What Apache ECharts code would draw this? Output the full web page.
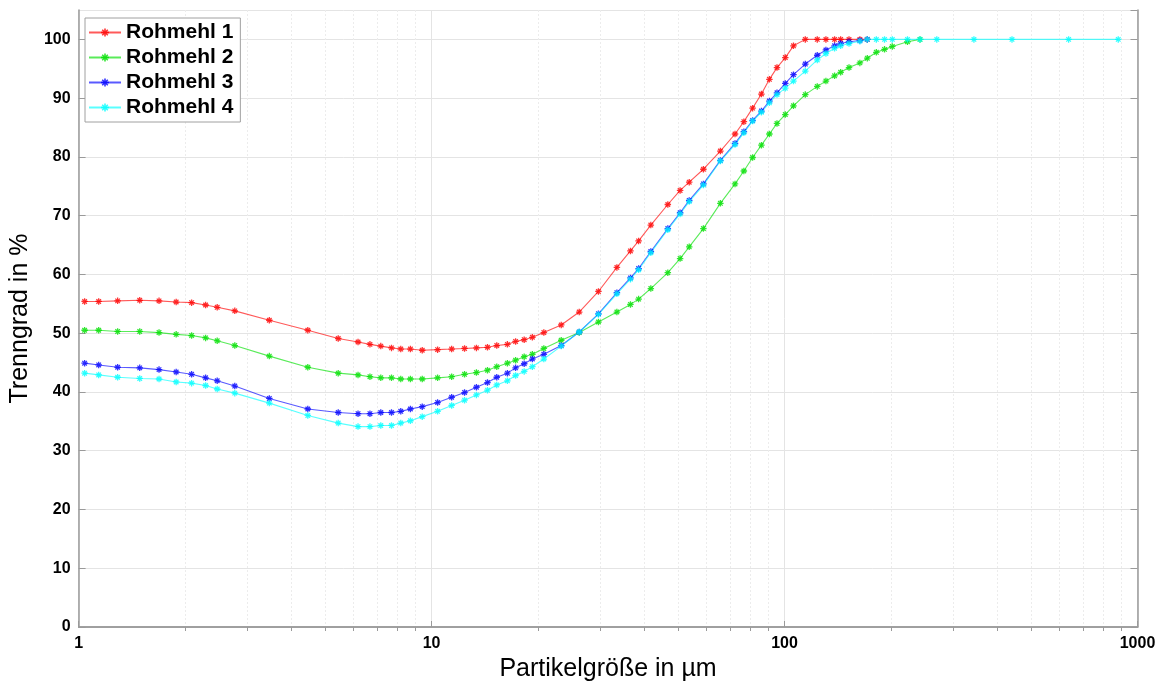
<!DOCTYPE html>
<html><head><meta charset="utf-8">
<script src="https://cdn.jsdelivr.net/npm/echarts@6/dist/echarts.min.js"></script>
<style>html,body{margin:0;padding:0;background:#fff}#c{width:1163px;height:687px}</style>
</head><body><div id="c"></div>
<script>
// Particle sizes (µm)
const xValues = [1.04,1.14,1.29,1.49,1.69,1.89,2.09,2.29,2.47,2.77,
 3.47,4.46,5.44,6.19,6.69,7.18,7.70,8.18,8.71,9.41,
 10.4,11.4,12.4,13.4,14.4,15.3,16.4,17.3,18.3,19.3,
 20.8,23.3,26.2,29.7,33.5,36.6,38.6,41.8,46.7,50.6,
 53.7,58.9,65.8,72.4,76.7,81.2,86.0,90.6,95.2,100.5,
 106,114.5,123.8,131,138.6,144.2,152.3,163.5,171.6,182,
 192,202,223,242,270,344,441,638,882];

const rohmehl1 = [55.4,55.4,55.5,55.6,55.5,55.3,55.2,54.8,54.4,53.8,
 52.2,50.5,49.1,48.5,48.1,47.8,47.5,47.3,47.3,47.1,
 47.2,47.3,47.4,47.5,47.6,47.9,48.1,48.6,48.9,49.3,
 50.1,51.4,53.6,57.1,61.2,64.0,65.7,68.4,71.9,74.3,
 75.7,77.9,81.0,83.9,86.0,88.3,90.7,93.2,95.2,96.9,
 98.9,100,100,100,100,100,100,100,100,null,
 null,null,null,null,null,null,null,null,null];

const rohmehl2 = [50.5,50.5,50.3,50.3,50.1,49.8,49.6,49.2,48.7,47.9,
 46.1,44.2,43.2,42.9,42.6,42.4,42.4,42.2,42.2,42.2,
 42.4,42.6,43.0,43.3,43.7,44.3,44.9,45.4,46.0,46.4,
 47.4,48.8,50.1,51.9,53.6,54.9,55.8,57.6,60.3,62.7,
 64.7,67.8,72.1,75.4,77.6,79.9,82.0,83.9,85.7,87.2,
 88.7,90.6,92.0,92.9,93.8,94.4,95.2,96.0,96.8,97.8,
 98.3,98.8,99.6,100,null,null,null,null,null];

const rohmehl3 = [44.9,44.6,44.2,44.1,43.8,43.4,43.0,42.4,41.9,41.0,
 38.9,37.1,36.5,36.3,36.3,36.5,36.5,36.7,37.1,37.5,
 38.2,39.1,39.9,40.8,41.6,42.5,43.2,44.1,44.8,45.6,
 46.4,47.9,50.2,53.3,56.9,59.4,61.0,63.9,67.8,70.5,
 72.6,75.4,79.4,82.3,84.3,86.2,87.8,89.5,90.9,92.5,
 94.0,95.8,97.3,98.2,98.9,99.3,99.6,99.8,100,null,
 null,null,null,null,null,null,null,null,null];

const rohmehl4 = [43.2,42.9,42.5,42.3,42.2,41.7,41.5,41.1,40.5,39.8,
 38.1,36.0,34.7,34.1,34.1,34.3,34.3,34.7,35.1,35.8,
 36.7,37.7,38.6,39.5,40.3,41.2,41.9,42.8,43.5,44.3,
 45.6,47.8,50.2,53.2,56.7,59.2,60.8,63.7,67.6,70.3,
 72.4,75.2,79.3,82.1,84.1,86.1,87.6,89.2,90.6,91.7,
 92.9,94.6,96.5,97.6,98.5,98.9,99.3,99.7,100,100,
 100,100,100,100,100,100,100,100,100];

const seriesNames = ['Rohmehl 1','Rohmehl 2','Rohmehl 3','Rohmehl 4'];
const seriesValues = [rohmehl1, rohmehl2, rohmehl3, rohmehl4];
const seriesColors = ['#ff0000','#00e000','#0000ff','#00ffff'];
const xMinorTicks = [2,3,4,5,6,7,8,9,20,30,40,50,60,70,80,90,200,300,400,500,600,700,800,900];

const FONT = '"Liberation Sans", Arial, sans-serif';
const AXIS_COLOR = '#9a9a9a';
const GRID_COLOR = '#e4e4e4';
const star = 'path://M-1,-5L1,-5L1,5L-1,5Z M-5,-1L5,-1L5,1L-5,1Z M-4.2,-2.8L-2.8,-4.2L4.2,2.8L2.8,4.2Z M2.8,-4.2L4.2,-2.8L-2.8,4.2L-4.2,2.8Z';

function pairs(vals){
  const out = [];
  vals.forEach((v,i)=>{ if (v !== null) out.push([xValues[i], v]); });
  return out;
}

const chart = echarts.init(document.getElementById('c'), null, {renderer:'canvas'});
chart.setOption({
  animation: false,
  backgroundColor: '#fff',
  grid: {left: 77.5, right: 25.5, top: 10, bottom: 56, containLabel: false},
  legend: {
    left: 85, top: 18, orient: 'vertical',
    itemGap: 4, itemWidth: 32, itemHeight: 10,
    padding: [4, 7, 4, 3],
    borderColor: '#a0a0a0', borderWidth: 1, backgroundColor: '#fff',
    textStyle: {fontSize: 21, fontWeight: 'bold', color: '#000', fontFamily: FONT, lineHeight: 21},
    data: seriesNames
  },
  xAxis: [
    {
      type: 'log', logBase: 10, min: 1, max: 1000, position: 'bottom',
      axisLine: {show: true, lineStyle: {color: AXIS_COLOR, width: 1.5}},
      axisTick: {show: true, inside: true, length: 6, lineStyle: {color: AXIS_COLOR}},
      axisLabel: {color: '#000', fontWeight: 'bold', fontSize: 16, fontFamily: FONT, margin: 9,
                  formatter: v => String(Math.round(v))},
      splitLine: {show: true, lineStyle: {color: GRID_COLOR, width: 1}},
      name: 'Partikelgröße in µm', nameLocation: 'middle', nameGap: 30,
      nameTextStyle: {fontSize: 25, color: '#000', fontFamily: FONT}
    },
    {
      type: 'log', logBase: 10, min: 1, max: 1000, position: 'top',
      axisLine: {show: true, lineStyle: {color: AXIS_COLOR, width: 1.5}},
      axisTick: {show: true, inside: true, length: 4, customValues: xMinorTicks, lineStyle: {color: AXIS_COLOR}},
      axisLabel: {show: false},
      splitLine: {show: true, lineStyle: {color: '#ececec', width: 1, type: [2, 2]}}
    }
  ],
  yAxis: [
    {
      type: 'value', min: 0, max: 105, interval: 10, position: 'left',
      axisLine: {show: true, lineStyle: {color: AXIS_COLOR, width: 1.5}},
      axisTick: {show: true, inside: true, length: 7, lineStyle: {color: AXIS_COLOR}},
      axisLabel: {color: '#000', fontWeight: 'bold', fontSize: 16, fontFamily: FONT, margin: 8, showMaxLabel: false},
      splitLine: {show: true, lineStyle: {color: GRID_COLOR, width: 1}},
      name: 'Trenngrad in %', nameLocation: 'middle', nameGap: 42,
      nameTextStyle: {fontSize: 25, color: '#000', fontFamily: FONT}
    },
    {
      type: 'value', min: 0, max: 105, interval: 10, position: 'right',
      axisLine: {show: true, lineStyle: {color: AXIS_COLOR, width: 1.5}},
      axisTick: {show: true, inside: true, length: 7, lineStyle: {color: AXIS_COLOR}},
      axisLabel: {show: false},
      splitLine: {show: false}
    }
  ],
  series: seriesNames.map((name, k) => ({
    name: name, type: 'line', xAxisIndex: 0, yAxisIndex: 0,
    data: pairs(seriesValues[k]),
    symbol: star, symbolSize: 6.5,
    color: seriesColors[k],
    lineStyle: {width: 1.1, color: seriesColors[k], opacity: 0.65},
    itemStyle: {color: seriesColors[k], opacity: 0.8},
    emphasis: {disabled: true}
  }))
});
</script>
</body></html>
